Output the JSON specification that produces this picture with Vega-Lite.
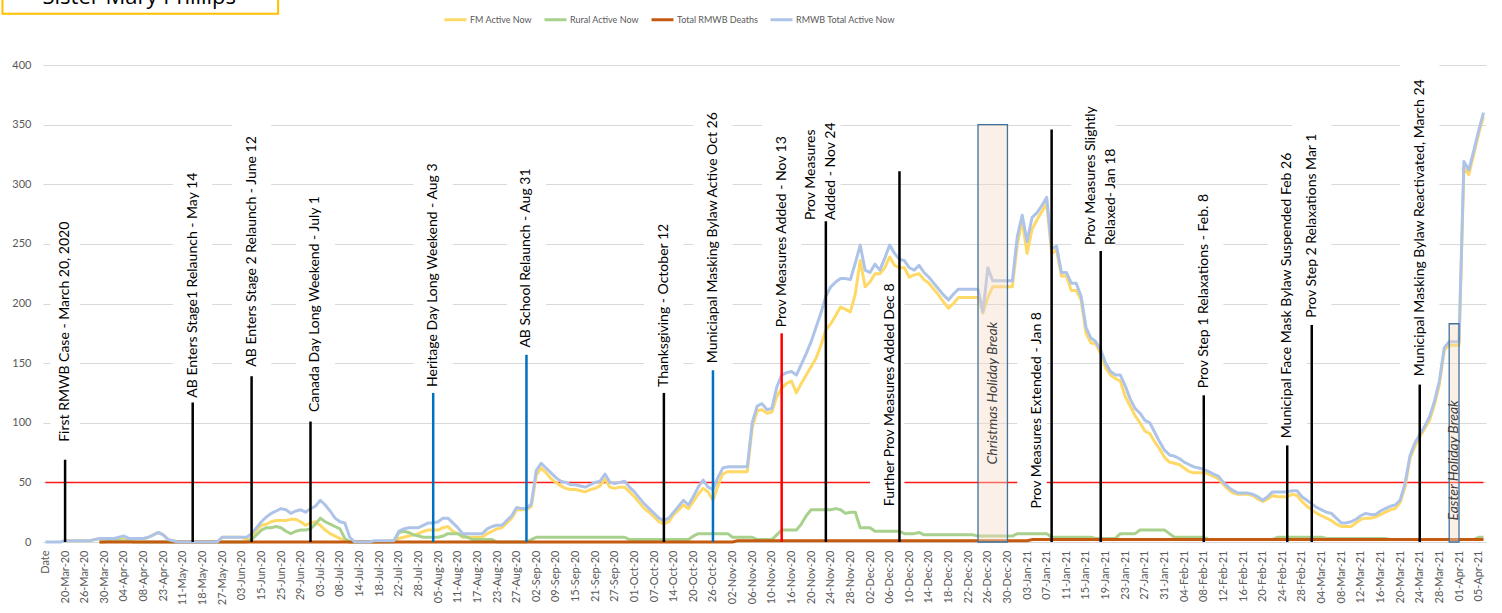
{
"$schema":"https://vega.github.io/schema/vega-lite/v6.json",
"width":1443,"height":477,
"autosize":{"type":"none"},
"padding":{"left":43,"top":65,"right":16,"bottom":71},
"background":"white",
"config":{"view":{"stroke":null},"font":"Lato"},
"datasets":{
"series":[
{"d":"Date","FM Active Now":null,"Rural Active Now":null,"Total RMWB Deaths":null,"RMWB Total Active Now":0},
{"d":"17-Mar-20","FM Active Now":null,"Rural Active Now":null,"Total RMWB Deaths":null,"RMWB Total Active Now":0},
{"d":"18-Mar-20","FM Active Now":null,"Rural Active Now":null,"Total RMWB Deaths":null,"RMWB Total Active Now":0},
{"d":"19-Mar-20","FM Active Now":null,"Rural Active Now":null,"Total RMWB Deaths":null,"RMWB Total Active Now":0},
{"d":"20-Mar-20","FM Active Now":1,"Rural Active Now":null,"Total RMWB Deaths":null,"RMWB Total Active Now":1},
{"d":"23-Mar-20","FM Active Now":1,"Rural Active Now":null,"Total RMWB Deaths":null,"RMWB Total Active Now":1},
{"d":"24-Mar-20","FM Active Now":1,"Rural Active Now":null,"Total RMWB Deaths":null,"RMWB Total Active Now":1},
{"d":"25-Mar-20","FM Active Now":1,"Rural Active Now":null,"Total RMWB Deaths":null,"RMWB Total Active Now":1},
{"d":"26-Mar-20","FM Active Now":1,"Rural Active Now":null,"Total RMWB Deaths":null,"RMWB Total Active Now":1},
{"d":"27-Mar-20","FM Active Now":1,"Rural Active Now":null,"Total RMWB Deaths":null,"RMWB Total Active Now":1},
{"d":"28-Mar-20","FM Active Now":2,"Rural Active Now":null,"Total RMWB Deaths":null,"RMWB Total Active Now":2},
{"d":"29-Mar-20","FM Active Now":3,"Rural Active Now":0,"Total RMWB Deaths":0,"RMWB Total Active Now":3},
{"d":"30-Mar-20","FM Active Now":3,"Rural Active Now":0,"Total RMWB Deaths":0,"RMWB Total Active Now":3},
{"d":"31-Mar-20","FM Active Now":2,"Rural Active Now":1,"Total RMWB Deaths":0,"RMWB Total Active Now":3},
{"d":"01-Apr-20","FM Active Now":2,"Rural Active Now":1,"Total RMWB Deaths":0,"RMWB Total Active Now":3},
{"d":"02-Apr-20","FM Active Now":3,"Rural Active Now":1,"Total RMWB Deaths":0,"RMWB Total Active Now":4},
{"d":"04-Apr-20","FM Active Now":4,"Rural Active Now":1,"Total RMWB Deaths":0,"RMWB Total Active Now":5},
{"d":"05-Apr-20","FM Active Now":2,"Rural Active Now":1,"Total RMWB Deaths":0,"RMWB Total Active Now":3},
{"d":"06-Apr-20","FM Active Now":3,"Rural Active Now":0,"Total RMWB Deaths":0,"RMWB Total Active Now":3},
{"d":"07-Apr-20","FM Active Now":3,"Rural Active Now":0,"Total RMWB Deaths":0,"RMWB Total Active Now":3},
{"d":"08-Apr-20","FM Active Now":3,"Rural Active Now":0,"Total RMWB Deaths":0,"RMWB Total Active Now":3},
{"d":"14-Apr-20","FM Active Now":4,"Rural Active Now":0,"Total RMWB Deaths":0,"RMWB Total Active Now":4},
{"d":"17-Apr-20","FM Active Now":6,"Rural Active Now":0,"Total RMWB Deaths":0,"RMWB Total Active Now":6},
{"d":"20-Apr-20","FM Active Now":8,"Rural Active Now":0,"Total RMWB Deaths":0,"RMWB Total Active Now":8},
{"d":"23-Apr-20","FM Active Now":6,"Rural Active Now":0,"Total RMWB Deaths":0,"RMWB Total Active Now":6},
{"d":"28-Apr-20","FM Active Now":2,"Rural Active Now":0,"Total RMWB Deaths":0,"RMWB Total Active Now":2},
{"d":"01-May-20","FM Active Now":1,"Rural Active Now":0,"Total RMWB Deaths":0,"RMWB Total Active Now":1},
{"d":"06-May-20","FM Active Now":0,"Rural Active Now":0,"Total RMWB Deaths":0,"RMWB Total Active Now":0},
{"d":"11-May-20","FM Active Now":0,"Rural Active Now":0,"Total RMWB Deaths":0,"RMWB Total Active Now":0},
{"d":"13-May-20","FM Active Now":0,"Rural Active Now":0,"Total RMWB Deaths":0,"RMWB Total Active Now":0},
{"d":"14-May-20","FM Active Now":0,"Rural Active Now":0,"Total RMWB Deaths":0,"RMWB Total Active Now":0},
{"d":"15-May-20","FM Active Now":0,"Rural Active Now":0,"Total RMWB Deaths":0,"RMWB Total Active Now":0},
{"d":"18-May-20","FM Active Now":0,"Rural Active Now":0,"Total RMWB Deaths":0,"RMWB Total Active Now":0},
{"d":"20-May-20","FM Active Now":0,"Rural Active Now":0,"Total RMWB Deaths":0,"RMWB Total Active Now":0},
{"d":"22-May-20","FM Active Now":0,"Rural Active Now":0,"Total RMWB Deaths":0,"RMWB Total Active Now":0},
{"d":"25-May-20","FM Active Now":0,"Rural Active Now":0,"Total RMWB Deaths":0,"RMWB Total Active Now":0},
{"d":"27-May-20","FM Active Now":4,"Rural Active Now":0,"Total RMWB Deaths":0,"RMWB Total Active Now":4},
{"d":"29-May-20","FM Active Now":4,"Rural Active Now":0,"Total RMWB Deaths":0,"RMWB Total Active Now":4},
{"d":"01-Jun-20","FM Active Now":4,"Rural Active Now":0,"Total RMWB Deaths":0,"RMWB Total Active Now":4},
{"d":"02-Jun-20","FM Active Now":4,"Rural Active Now":0,"Total RMWB Deaths":0,"RMWB Total Active Now":4},
{"d":"03-Jun-20","FM Active Now":4,"Rural Active Now":0,"Total RMWB Deaths":0,"RMWB Total Active Now":4},
{"d":"05-Jun-20","FM Active Now":2,"Rural Active Now":0,"Total RMWB Deaths":0,"RMWB Total Active Now":4},
{"d":"09-Jun-20","FM Active Now":3,"Rural Active Now":2,"Total RMWB Deaths":0,"RMWB Total Active Now":7},
{"d":"12-Jun-20","FM Active Now":10,"Rural Active Now":6,"Total RMWB Deaths":0,"RMWB Total Active Now":12},
{"d":"15-Jun-20","FM Active Now":14,"Rural Active Now":10,"Total RMWB Deaths":0,"RMWB Total Active Now":17},
{"d":"17-Jun-20","FM Active Now":15,"Rural Active Now":12,"Total RMWB Deaths":0,"RMWB Total Active Now":21},
{"d":"19-Jun-20","FM Active Now":17,"Rural Active Now":12,"Total RMWB Deaths":0,"RMWB Total Active Now":24},
{"d":"22-Jun-20","FM Active Now":18,"Rural Active Now":13,"Total RMWB Deaths":0,"RMWB Total Active Now":26},
{"d":"25-Jun-20","FM Active Now":18,"Rural Active Now":12,"Total RMWB Deaths":0,"RMWB Total Active Now":28},
{"d":"26-Jun-20","FM Active Now":18,"Rural Active Now":9,"Total RMWB Deaths":0,"RMWB Total Active Now":27},
{"d":"27-Jun-20","FM Active Now":19,"Rural Active Now":7,"Total RMWB Deaths":0,"RMWB Total Active Now":24},
{"d":"28-Jun-20","FM Active Now":19,"Rural Active Now":9,"Total RMWB Deaths":0,"RMWB Total Active Now":26},
{"d":"29-Jun-20","FM Active Now":17,"Rural Active Now":10,"Total RMWB Deaths":0,"RMWB Total Active Now":27},
{"d":"30-Jun-20","FM Active Now":14,"Rural Active Now":10,"Total RMWB Deaths":0,"RMWB Total Active Now":25},
{"d":"01-Jul-20","FM Active Now":16,"Rural Active Now":11,"Total RMWB Deaths":0,"RMWB Total Active Now":28},
{"d":"02-Jul-20","FM Active Now":17,"Rural Active Now":15,"Total RMWB Deaths":0,"RMWB Total Active Now":30},
{"d":"03-Jul-20","FM Active Now":14,"Rural Active Now":20,"Total RMWB Deaths":0,"RMWB Total Active Now":35},
{"d":"05-Jul-20","FM Active Now":10,"Rural Active Now":17,"Total RMWB Deaths":0,"RMWB Total Active Now":31},
{"d":"06-Jul-20","FM Active Now":7,"Rural Active Now":15,"Total RMWB Deaths":0,"RMWB Total Active Now":26},
{"d":"07-Jul-20","FM Active Now":5,"Rural Active Now":13,"Total RMWB Deaths":0,"RMWB Total Active Now":20},
{"d":"08-Jul-20","FM Active Now":3,"Rural Active Now":11,"Total RMWB Deaths":0,"RMWB Total Active Now":17},
{"d":"09-Jul-20","FM Active Now":1,"Rural Active Now":3,"Total RMWB Deaths":0,"RMWB Total Active Now":16},
{"d":"10-Jul-20","FM Active Now":0,"Rural Active Now":0,"Total RMWB Deaths":0,"RMWB Total Active Now":4},
{"d":"13-Jul-20","FM Active Now":0,"Rural Active Now":0,"Total RMWB Deaths":0,"RMWB Total Active Now":0},
{"d":"14-Jul-20","FM Active Now":0,"Rural Active Now":0,"Total RMWB Deaths":0,"RMWB Total Active Now":0},
{"d":"15-Jul-20","FM Active Now":0,"Rural Active Now":0,"Total RMWB Deaths":0,"RMWB Total Active Now":0},
{"d":"16-Jul-20","FM Active Now":0,"Rural Active Now":0,"Total RMWB Deaths":0,"RMWB Total Active Now":0},
{"d":"17-Jul-20","FM Active Now":0,"Rural Active Now":0,"Total RMWB Deaths":0,"RMWB Total Active Now":1},
{"d":"18-Jul-20","FM Active Now":0,"Rural Active Now":0,"Total RMWB Deaths":0,"RMWB Total Active Now":1},
{"d":"19-Jul-20","FM Active Now":0,"Rural Active Now":0,"Total RMWB Deaths":0,"RMWB Total Active Now":1},
{"d":"20-Jul-20","FM Active Now":1,"Rural Active Now":0,"Total RMWB Deaths":0,"RMWB Total Active Now":1},
{"d":"21-Jul-20","FM Active Now":1,"Rural Active Now":0,"Total RMWB Deaths":0,"RMWB Total Active Now":1},
{"d":"22-Jul-20","FM Active Now":3,"Rural Active Now":8,"Total RMWB Deaths":0,"RMWB Total Active Now":9},
{"d":"23-Jul-20","FM Active Now":4,"Rural Active Now":9,"Total RMWB Deaths":0,"RMWB Total Active Now":11},
{"d":"24-Jul-20","FM Active Now":5,"Rural Active Now":8,"Total RMWB Deaths":0,"RMWB Total Active Now":12},
{"d":"27-Jul-20","FM Active Now":6,"Rural Active Now":6,"Total RMWB Deaths":0,"RMWB Total Active Now":12},
{"d":"28-Jul-20","FM Active Now":7,"Rural Active Now":5,"Total RMWB Deaths":0,"RMWB Total Active Now":12},
{"d":"30-Jul-20","FM Active Now":9,"Rural Active Now":4,"Total RMWB Deaths":0,"RMWB Total Active Now":14},
{"d":"31-Jul-20","FM Active Now":10,"Rural Active Now":4,"Total RMWB Deaths":0,"RMWB Total Active Now":16},
{"d":"03-Aug-20","FM Active Now":10,"Rural Active Now":4,"Total RMWB Deaths":0,"RMWB Total Active Now":16},
{"d":"05-Aug-20","FM Active Now":10,"Rural Active Now":4,"Total RMWB Deaths":0,"RMWB Total Active Now":17},
{"d":"06-Aug-20","FM Active Now":12,"Rural Active Now":5,"Total RMWB Deaths":0,"RMWB Total Active Now":20},
{"d":"07-Aug-20","FM Active Now":13,"Rural Active Now":7,"Total RMWB Deaths":0,"RMWB Total Active Now":20},
{"d":"10-Aug-20","FM Active Now":9,"Rural Active Now":7,"Total RMWB Deaths":0,"RMWB Total Active Now":16},
{"d":"11-Aug-20","FM Active Now":7,"Rural Active Now":7,"Total RMWB Deaths":0,"RMWB Total Active Now":12},
{"d":"12-Aug-20","FM Active Now":4,"Rural Active Now":5,"Total RMWB Deaths":0,"RMWB Total Active Now":7},
{"d":"13-Aug-20","FM Active Now":4,"Rural Active Now":4,"Total RMWB Deaths":0,"RMWB Total Active Now":7},
{"d":"14-Aug-20","FM Active Now":4,"Rural Active Now":2,"Total RMWB Deaths":0,"RMWB Total Active Now":7},
{"d":"17-Aug-20","FM Active Now":4,"Rural Active Now":2,"Total RMWB Deaths":0,"RMWB Total Active Now":7},
{"d":"19-Aug-20","FM Active Now":4,"Rural Active Now":2,"Total RMWB Deaths":0,"RMWB Total Active Now":7},
{"d":"20-Aug-20","FM Active Now":7,"Rural Active Now":2,"Total RMWB Deaths":0,"RMWB Total Active Now":11},
{"d":"21-Aug-20","FM Active Now":9,"Rural Active Now":2,"Total RMWB Deaths":0,"RMWB Total Active Now":13},
{"d":"23-Aug-20","FM Active Now":11,"Rural Active Now":0,"Total RMWB Deaths":0,"RMWB Total Active Now":14},
{"d":"24-Aug-20","FM Active Now":12,"Rural Active Now":0,"Total RMWB Deaths":0,"RMWB Total Active Now":14},
{"d":"25-Aug-20","FM Active Now":16,"Rural Active Now":0,"Total RMWB Deaths":0,"RMWB Total Active Now":18},
{"d":"26-Aug-20","FM Active Now":20,"Rural Active Now":0,"Total RMWB Deaths":0,"RMWB Total Active Now":22},
{"d":"27-Aug-20","FM Active Now":27,"Rural Active Now":0,"Total RMWB Deaths":0,"RMWB Total Active Now":29},
{"d":"28-Aug-20","FM Active Now":27,"Rural Active Now":0,"Total RMWB Deaths":0,"RMWB Total Active Now":28},
{"d":"31-Aug-20","FM Active Now":27,"Rural Active Now":0,"Total RMWB Deaths":0,"RMWB Total Active Now":28},
{"d":"01-Sep-20","FM Active Now":30,"Rural Active Now":2,"Total RMWB Deaths":0,"RMWB Total Active Now":32},
{"d":"02-Sep-20","FM Active Now":56,"Rural Active Now":4,"Total RMWB Deaths":0,"RMWB Total Active Now":60},
{"d":"03-Sep-20","FM Active Now":62,"Rural Active Now":4,"Total RMWB Deaths":0,"RMWB Total Active Now":66},
{"d":"04-Sep-20","FM Active Now":58,"Rural Active Now":4,"Total RMWB Deaths":0,"RMWB Total Active Now":62},
{"d":"08-Sep-20","FM Active Now":53,"Rural Active Now":4,"Total RMWB Deaths":0,"RMWB Total Active Now":58},
{"d":"09-Sep-20","FM Active Now":50,"Rural Active Now":4,"Total RMWB Deaths":0,"RMWB Total Active Now":54},
{"d":"10-Sep-20","FM Active Now":47,"Rural Active Now":4,"Total RMWB Deaths":0,"RMWB Total Active Now":51},
{"d":"11-Sep-20","FM Active Now":45,"Rural Active Now":4,"Total RMWB Deaths":0,"RMWB Total Active Now":50},
{"d":"14-Sep-20","FM Active Now":44,"Rural Active Now":4,"Total RMWB Deaths":0,"RMWB Total Active Now":48},
{"d":"15-Sep-20","FM Active Now":44,"Rural Active Now":4,"Total RMWB Deaths":0,"RMWB Total Active Now":48},
{"d":"16-Sep-20","FM Active Now":43,"Rural Active Now":4,"Total RMWB Deaths":0,"RMWB Total Active Now":47},
{"d":"17-Sep-20","FM Active Now":42,"Rural Active Now":4,"Total RMWB Deaths":0,"RMWB Total Active Now":46},
{"d":"18-Sep-20","FM Active Now":44,"Rural Active Now":4,"Total RMWB Deaths":0,"RMWB Total Active Now":48},
{"d":"21-Sep-20","FM Active Now":45,"Rural Active Now":4,"Total RMWB Deaths":0,"RMWB Total Active Now":50},
{"d":"22-Sep-20","FM Active Now":47,"Rural Active Now":4,"Total RMWB Deaths":0,"RMWB Total Active Now":51},
{"d":"23-Sep-20","FM Active Now":53,"Rural Active Now":4,"Total RMWB Deaths":0,"RMWB Total Active Now":57},
{"d":"24-Sep-20","FM Active Now":46,"Rural Active Now":4,"Total RMWB Deaths":0,"RMWB Total Active Now":50},
{"d":"27-Sep-20","FM Active Now":45,"Rural Active Now":4,"Total RMWB Deaths":0,"RMWB Total Active Now":49},
{"d":"28-Sep-20","FM Active Now":46,"Rural Active Now":4,"Total RMWB Deaths":0,"RMWB Total Active Now":50},
{"d":"29-Sep-20","FM Active Now":46,"Rural Active Now":4,"Total RMWB Deaths":0,"RMWB Total Active Now":51},
{"d":"30-Sep-20","FM Active Now":42,"Rural Active Now":2,"Total RMWB Deaths":0,"RMWB Total Active Now":46},
{"d":"01-Oct-20","FM Active Now":38,"Rural Active Now":2,"Total RMWB Deaths":0,"RMWB Total Active Now":42},
{"d":"02-Oct-20","FM Active Now":33,"Rural Active Now":2,"Total RMWB Deaths":0,"RMWB Total Active Now":37},
{"d":"05-Oct-20","FM Active Now":28,"Rural Active Now":2,"Total RMWB Deaths":0,"RMWB Total Active Now":32},
{"d":"06-Oct-20","FM Active Now":25,"Rural Active Now":2,"Total RMWB Deaths":0,"RMWB Total Active Now":28},
{"d":"07-Oct-20","FM Active Now":21,"Rural Active Now":2,"Total RMWB Deaths":0,"RMWB Total Active Now":24},
{"d":"09-Oct-20","FM Active Now":17,"Rural Active Now":2,"Total RMWB Deaths":0,"RMWB Total Active Now":20},
{"d":"12-Oct-20","FM Active Now":15,"Rural Active Now":2,"Total RMWB Deaths":0,"RMWB Total Active Now":18},
{"d":"13-Oct-20","FM Active Now":17,"Rural Active Now":2,"Total RMWB Deaths":0,"RMWB Total Active Now":20},
{"d":"14-Oct-20","FM Active Now":23,"Rural Active Now":2,"Total RMWB Deaths":0,"RMWB Total Active Now":25},
{"d":"15-Oct-20","FM Active Now":27,"Rural Active Now":2,"Total RMWB Deaths":0,"RMWB Total Active Now":30},
{"d":"16-Oct-20","FM Active Now":31,"Rural Active Now":2,"Total RMWB Deaths":0,"RMWB Total Active Now":35},
{"d":"19-Oct-20","FM Active Now":28,"Rural Active Now":2,"Total RMWB Deaths":0,"RMWB Total Active Now":31},
{"d":"20-Oct-20","FM Active Now":34,"Rural Active Now":5,"Total RMWB Deaths":0,"RMWB Total Active Now":38},
{"d":"21-Oct-20","FM Active Now":40,"Rural Active Now":7,"Total RMWB Deaths":0,"RMWB Total Active Now":46},
{"d":"22-Oct-20","FM Active Now":45,"Rural Active Now":7,"Total RMWB Deaths":0,"RMWB Total Active Now":52},
{"d":"23-Oct-20","FM Active Now":42,"Rural Active Now":7,"Total RMWB Deaths":0,"RMWB Total Active Now":46},
{"d":"26-Oct-20","FM Active Now":35,"Rural Active Now":7,"Total RMWB Deaths":0,"RMWB Total Active Now":44},
{"d":"27-Oct-20","FM Active Now":47,"Rural Active Now":7,"Total RMWB Deaths":0,"RMWB Total Active Now":54},
{"d":"28-Oct-20","FM Active Now":57,"Rural Active Now":7,"Total RMWB Deaths":0,"RMWB Total Active Now":62},
{"d":"30-Oct-20","FM Active Now":59,"Rural Active Now":7,"Total RMWB Deaths":0,"RMWB Total Active Now":63},
{"d":"02-Nov-20","FM Active Now":59,"Rural Active Now":4,"Total RMWB Deaths":0,"RMWB Total Active Now":63},
{"d":"03-Nov-20","FM Active Now":59,"Rural Active Now":4,"Total RMWB Deaths":1,"RMWB Total Active Now":63},
{"d":"04-Nov-20","FM Active Now":59,"Rural Active Now":4,"Total RMWB Deaths":1,"RMWB Total Active Now":63},
{"d":"05-Nov-20","FM Active Now":59,"Rural Active Now":4,"Total RMWB Deaths":1,"RMWB Total Active Now":63},
{"d":"06-Nov-20","FM Active Now":96,"Rural Active Now":4,"Total RMWB Deaths":1,"RMWB Total Active Now":100},
{"d":"07-Nov-20","FM Active Now":110,"Rural Active Now":2,"Total RMWB Deaths":1,"RMWB Total Active Now":114},
{"d":"08-Nov-20","FM Active Now":111,"Rural Active Now":2,"Total RMWB Deaths":1,"RMWB Total Active Now":116},
{"d":"09-Nov-20","FM Active Now":108,"Rural Active Now":2,"Total RMWB Deaths":1,"RMWB Total Active Now":111},
{"d":"10-Nov-20","FM Active Now":109,"Rural Active Now":2,"Total RMWB Deaths":1,"RMWB Total Active Now":112},
{"d":"12-Nov-20","FM Active Now":122,"Rural Active Now":6,"Total RMWB Deaths":1,"RMWB Total Active Now":130},
{"d":"13-Nov-20","FM Active Now":129,"Rural Active Now":10,"Total RMWB Deaths":1,"RMWB Total Active Now":140},
{"d":"15-Nov-20","FM Active Now":133,"Rural Active Now":10,"Total RMWB Deaths":1,"RMWB Total Active Now":142},
{"d":"16-Nov-20","FM Active Now":135,"Rural Active Now":10,"Total RMWB Deaths":1,"RMWB Total Active Now":143},
{"d":"17-Nov-20","FM Active Now":125,"Rural Active Now":10,"Total RMWB Deaths":1,"RMWB Total Active Now":140},
{"d":"18-Nov-20","FM Active Now":133,"Rural Active Now":15,"Total RMWB Deaths":1,"RMWB Total Active Now":149},
{"d":"19-Nov-20","FM Active Now":140,"Rural Active Now":22,"Total RMWB Deaths":1,"RMWB Total Active Now":158},
{"d":"20-Nov-20","FM Active Now":147,"Rural Active Now":27,"Total RMWB Deaths":1,"RMWB Total Active Now":168},
{"d":"21-Nov-20","FM Active Now":154,"Rural Active Now":27,"Total RMWB Deaths":1,"RMWB Total Active Now":180},
{"d":"22-Nov-20","FM Active Now":165,"Rural Active Now":27,"Total RMWB Deaths":1,"RMWB Total Active Now":192},
{"d":"23-Nov-20","FM Active Now":178,"Rural Active Now":27,"Total RMWB Deaths":1,"RMWB Total Active Now":206},
{"d":"24-Nov-20","FM Active Now":183,"Rural Active Now":27,"Total RMWB Deaths":1,"RMWB Total Active Now":214},
{"d":"25-Nov-20","FM Active Now":190,"Rural Active Now":28,"Total RMWB Deaths":1,"RMWB Total Active Now":218},
{"d":"26-Nov-20","FM Active Now":197,"Rural Active Now":27,"Total RMWB Deaths":1,"RMWB Total Active Now":221},
{"d":"27-Nov-20","FM Active Now":195,"Rural Active Now":24,"Total RMWB Deaths":1,"RMWB Total Active Now":221},
{"d":"28-Nov-20","FM Active Now":193,"Rural Active Now":25,"Total RMWB Deaths":1,"RMWB Total Active Now":220},
{"d":"29-Nov-20","FM Active Now":208,"Rural Active Now":25,"Total RMWB Deaths":1,"RMWB Total Active Now":234},
{"d":"30-Nov-20","FM Active Now":236,"Rural Active Now":12,"Total RMWB Deaths":1,"RMWB Total Active Now":249},
{"d":"01-Dec-20","FM Active Now":214,"Rural Active Now":12,"Total RMWB Deaths":1,"RMWB Total Active Now":228},
{"d":"02-Dec-20","FM Active Now":218,"Rural Active Now":12,"Total RMWB Deaths":1,"RMWB Total Active Now":226},
{"d":"03-Dec-20","FM Active Now":225,"Rural Active Now":9,"Total RMWB Deaths":1,"RMWB Total Active Now":233},
{"d":"04-Dec-20","FM Active Now":225,"Rural Active Now":9,"Total RMWB Deaths":1,"RMWB Total Active Now":228},
{"d":"05-Dec-20","FM Active Now":230,"Rural Active Now":9,"Total RMWB Deaths":1,"RMWB Total Active Now":238},
{"d":"06-Dec-20","FM Active Now":239,"Rural Active Now":9,"Total RMWB Deaths":1,"RMWB Total Active Now":249},
{"d":"07-Dec-20","FM Active Now":232,"Rural Active Now":9,"Total RMWB Deaths":1,"RMWB Total Active Now":242},
{"d":"08-Dec-20","FM Active Now":230,"Rural Active Now":9,"Total RMWB Deaths":1,"RMWB Total Active Now":237},
{"d":"09-Dec-20","FM Active Now":230,"Rural Active Now":7,"Total RMWB Deaths":1,"RMWB Total Active Now":236},
{"d":"10-Dec-20","FM Active Now":222,"Rural Active Now":7,"Total RMWB Deaths":1,"RMWB Total Active Now":230},
{"d":"11-Dec-20","FM Active Now":224,"Rural Active Now":7,"Total RMWB Deaths":1,"RMWB Total Active Now":228},
{"d":"12-Dec-20","FM Active Now":225,"Rural Active Now":8,"Total RMWB Deaths":1,"RMWB Total Active Now":232},
{"d":"13-Dec-20","FM Active Now":220,"Rural Active Now":6,"Total RMWB Deaths":1,"RMWB Total Active Now":226},
{"d":"14-Dec-20","FM Active Now":217,"Rural Active Now":6,"Total RMWB Deaths":1,"RMWB Total Active Now":222},
{"d":"15-Dec-20","FM Active Now":212,"Rural Active Now":6,"Total RMWB Deaths":1,"RMWB Total Active Now":217},
{"d":"16-Dec-20","FM Active Now":207,"Rural Active Now":6,"Total RMWB Deaths":1,"RMWB Total Active Now":212},
{"d":"17-Dec-20","FM Active Now":201,"Rural Active Now":6,"Total RMWB Deaths":1,"RMWB Total Active Now":207},
{"d":"18-Dec-20","FM Active Now":196,"Rural Active Now":6,"Total RMWB Deaths":1,"RMWB Total Active Now":203},
{"d":"19-Dec-20","FM Active Now":200,"Rural Active Now":6,"Total RMWB Deaths":1,"RMWB Total Active Now":208},
{"d":"20-Dec-20","FM Active Now":205,"Rural Active Now":6,"Total RMWB Deaths":1,"RMWB Total Active Now":212},
{"d":"21-Dec-20","FM Active Now":205,"Rural Active Now":6,"Total RMWB Deaths":1,"RMWB Total Active Now":212},
{"d":"22-Dec-20","FM Active Now":205,"Rural Active Now":6,"Total RMWB Deaths":1,"RMWB Total Active Now":212},
{"d":"23-Dec-20","FM Active Now":205,"Rural Active Now":6,"Total RMWB Deaths":1,"RMWB Total Active Now":212},
{"d":"24-Dec-20","FM Active Now":205,"Rural Active Now":5,"Total RMWB Deaths":1,"RMWB Total Active Now":212},
{"d":"25-Dec-20","FM Active Now":192,"Rural Active Now":5,"Total RMWB Deaths":1,"RMWB Total Active Now":193},
{"d":"26-Dec-20","FM Active Now":205,"Rural Active Now":5,"Total RMWB Deaths":1,"RMWB Total Active Now":230},
{"d":"27-Dec-20","FM Active Now":214,"Rural Active Now":5,"Total RMWB Deaths":1,"RMWB Total Active Now":219},
{"d":"28-Dec-20","FM Active Now":214,"Rural Active Now":5,"Total RMWB Deaths":1,"RMWB Total Active Now":219},
{"d":"29-Dec-20","FM Active Now":214,"Rural Active Now":5,"Total RMWB Deaths":1,"RMWB Total Active Now":219},
{"d":"30-Dec-20","FM Active Now":214,"Rural Active Now":5,"Total RMWB Deaths":1,"RMWB Total Active Now":219},
{"d":"31-Dec-20","FM Active Now":214,"Rural Active Now":5,"Total RMWB Deaths":1,"RMWB Total Active Now":219},
{"d":"01-Jan-21","FM Active Now":249,"Rural Active Now":7,"Total RMWB Deaths":1,"RMWB Total Active Now":256},
{"d":"02-Jan-21","FM Active Now":270,"Rural Active Now":7,"Total RMWB Deaths":1,"RMWB Total Active Now":274},
{"d":"03-Jan-21","FM Active Now":242,"Rural Active Now":7,"Total RMWB Deaths":1,"RMWB Total Active Now":252},
{"d":"04-Jan-21","FM Active Now":262,"Rural Active Now":7,"Total RMWB Deaths":2,"RMWB Total Active Now":272},
{"d":"05-Jan-21","FM Active Now":270,"Rural Active Now":7,"Total RMWB Deaths":2,"RMWB Total Active Now":276},
{"d":"06-Jan-21","FM Active Now":277,"Rural Active Now":7,"Total RMWB Deaths":2,"RMWB Total Active Now":282},
{"d":"07-Jan-21","FM Active Now":284,"Rural Active Now":7,"Total RMWB Deaths":2,"RMWB Total Active Now":289},
{"d":"08-Jan-21","FM Active Now":242,"Rural Active Now":4,"Total RMWB Deaths":2,"RMWB Total Active Now":246},
{"d":"09-Jan-21","FM Active Now":245,"Rural Active Now":4,"Total RMWB Deaths":2,"RMWB Total Active Now":248},
{"d":"10-Jan-21","FM Active Now":223,"Rural Active Now":4,"Total RMWB Deaths":2,"RMWB Total Active Now":226},
{"d":"11-Jan-21","FM Active Now":223,"Rural Active Now":4,"Total RMWB Deaths":2,"RMWB Total Active Now":226},
{"d":"12-Jan-21","FM Active Now":211,"Rural Active Now":4,"Total RMWB Deaths":2,"RMWB Total Active Now":217},
{"d":"13-Jan-21","FM Active Now":211,"Rural Active Now":4,"Total RMWB Deaths":2,"RMWB Total Active Now":217},
{"d":"14-Jan-21","FM Active Now":203,"Rural Active Now":4,"Total RMWB Deaths":2,"RMWB Total Active Now":206},
{"d":"15-Jan-21","FM Active Now":175,"Rural Active Now":4,"Total RMWB Deaths":2,"RMWB Total Active Now":180},
{"d":"16-Jan-21","FM Active Now":167,"Rural Active Now":4,"Total RMWB Deaths":2,"RMWB Total Active Now":171},
{"d":"17-Jan-21","FM Active Now":166,"Rural Active Now":3,"Total RMWB Deaths":2,"RMWB Total Active Now":168},
{"d":"18-Jan-21","FM Active Now":158,"Rural Active Now":3,"Total RMWB Deaths":2,"RMWB Total Active Now":161},
{"d":"19-Jan-21","FM Active Now":146,"Rural Active Now":3,"Total RMWB Deaths":2,"RMWB Total Active Now":150},
{"d":"20-Jan-21","FM Active Now":140,"Rural Active Now":3,"Total RMWB Deaths":2,"RMWB Total Active Now":143},
{"d":"21-Jan-21","FM Active Now":137,"Rural Active Now":3,"Total RMWB Deaths":2,"RMWB Total Active Now":140},
{"d":"22-Jan-21","FM Active Now":135,"Rural Active Now":7,"Total RMWB Deaths":2,"RMWB Total Active Now":140},
{"d":"23-Jan-21","FM Active Now":122,"Rural Active Now":7,"Total RMWB Deaths":2,"RMWB Total Active Now":131},
{"d":"24-Jan-21","FM Active Now":114,"Rural Active Now":7,"Total RMWB Deaths":2,"RMWB Total Active Now":120},
{"d":"25-Jan-21","FM Active Now":106,"Rural Active Now":7,"Total RMWB Deaths":2,"RMWB Total Active Now":112},
{"d":"26-Jan-21","FM Active Now":100,"Rural Active Now":10,"Total RMWB Deaths":2,"RMWB Total Active Now":108},
{"d":"27-Jan-21","FM Active Now":93,"Rural Active Now":10,"Total RMWB Deaths":2,"RMWB Total Active Now":102},
{"d":"28-Jan-21","FM Active Now":91,"Rural Active Now":10,"Total RMWB Deaths":2,"RMWB Total Active Now":100},
{"d":"29-Jan-21","FM Active Now":84,"Rural Active Now":10,"Total RMWB Deaths":2,"RMWB Total Active Now":92},
{"d":"30-Jan-21","FM Active Now":78,"Rural Active Now":10,"Total RMWB Deaths":2,"RMWB Total Active Now":84},
{"d":"31-Jan-21","FM Active Now":71,"Rural Active Now":10,"Total RMWB Deaths":2,"RMWB Total Active Now":77},
{"d":"01-Feb-21","FM Active Now":67,"Rural Active Now":7,"Total RMWB Deaths":2,"RMWB Total Active Now":73},
{"d":"02-Feb-21","FM Active Now":66,"Rural Active Now":4,"Total RMWB Deaths":2,"RMWB Total Active Now":72},
{"d":"03-Feb-21","FM Active Now":65,"Rural Active Now":4,"Total RMWB Deaths":2,"RMWB Total Active Now":70},
{"d":"04-Feb-21","FM Active Now":62,"Rural Active Now":4,"Total RMWB Deaths":2,"RMWB Total Active Now":67},
{"d":"05-Feb-21","FM Active Now":59,"Rural Active Now":4,"Total RMWB Deaths":2,"RMWB Total Active Now":65},
{"d":"06-Feb-21","FM Active Now":58,"Rural Active Now":4,"Total RMWB Deaths":2,"RMWB Total Active Now":63},
{"d":"07-Feb-21","FM Active Now":58,"Rural Active Now":4,"Total RMWB Deaths":2,"RMWB Total Active Now":62},
{"d":"08-Feb-21","FM Active Now":58,"Rural Active Now":4,"Total RMWB Deaths":2,"RMWB Total Active Now":61},
{"d":"09-Feb-21","FM Active Now":57,"Rural Active Now":2,"Total RMWB Deaths":2,"RMWB Total Active Now":59},
{"d":"10-Feb-21","FM Active Now":55,"Rural Active Now":2,"Total RMWB Deaths":2,"RMWB Total Active Now":57},
{"d":"11-Feb-21","FM Active Now":53,"Rural Active Now":2,"Total RMWB Deaths":2,"RMWB Total Active Now":55},
{"d":"12-Feb-21","FM Active Now":48,"Rural Active Now":2,"Total RMWB Deaths":2,"RMWB Total Active Now":50},
{"d":"13-Feb-21","FM Active Now":44,"Rural Active Now":2,"Total RMWB Deaths":2,"RMWB Total Active Now":46},
{"d":"14-Feb-21","FM Active Now":41,"Rural Active Now":2,"Total RMWB Deaths":2,"RMWB Total Active Now":43},
{"d":"15-Feb-21","FM Active Now":40,"Rural Active Now":2,"Total RMWB Deaths":2,"RMWB Total Active Now":41},
{"d":"16-Feb-21","FM Active Now":40,"Rural Active Now":2,"Total RMWB Deaths":2,"RMWB Total Active Now":41},
{"d":"17-Feb-21","FM Active Now":40,"Rural Active Now":2,"Total RMWB Deaths":2,"RMWB Total Active Now":41},
{"d":"18-Feb-21","FM Active Now":39,"Rural Active Now":2,"Total RMWB Deaths":2,"RMWB Total Active Now":40},
{"d":"19-Feb-21","FM Active Now":36,"Rural Active Now":2,"Total RMWB Deaths":2,"RMWB Total Active Now":38},
{"d":"20-Feb-21","FM Active Now":34,"Rural Active Now":2,"Total RMWB Deaths":2,"RMWB Total Active Now":35},
{"d":"21-Feb-21","FM Active Now":36,"Rural Active Now":2,"Total RMWB Deaths":2,"RMWB Total Active Now":38},
{"d":"22-Feb-21","FM Active Now":39,"Rural Active Now":2,"Total RMWB Deaths":2,"RMWB Total Active Now":42},
{"d":"23-Feb-21","FM Active Now":38,"Rural Active Now":4,"Total RMWB Deaths":2,"RMWB Total Active Now":42},
{"d":"24-Feb-21","FM Active Now":38,"Rural Active Now":4,"Total RMWB Deaths":2,"RMWB Total Active Now":42},
{"d":"25-Feb-21","FM Active Now":38,"Rural Active Now":4,"Total RMWB Deaths":2,"RMWB Total Active Now":42},
{"d":"26-Feb-21","FM Active Now":40,"Rural Active Now":4,"Total RMWB Deaths":2,"RMWB Total Active Now":43},
{"d":"27-Feb-21","FM Active Now":39,"Rural Active Now":4,"Total RMWB Deaths":2,"RMWB Total Active Now":43},
{"d":"28-Feb-21","FM Active Now":34,"Rural Active Now":4,"Total RMWB Deaths":2,"RMWB Total Active Now":38},
{"d":"01-Mar-21","FM Active Now":30,"Rural Active Now":4,"Total RMWB Deaths":2,"RMWB Total Active Now":35},
{"d":"02-Mar-21","FM Active Now":27,"Rural Active Now":4,"Total RMWB Deaths":2,"RMWB Total Active Now":32},
{"d":"03-Mar-21","FM Active Now":24,"Rural Active Now":4,"Total RMWB Deaths":2,"RMWB Total Active Now":29},
{"d":"04-Mar-21","FM Active Now":22,"Rural Active Now":4,"Total RMWB Deaths":2,"RMWB Total Active Now":27},
{"d":"05-Mar-21","FM Active Now":20,"Rural Active Now":3,"Total RMWB Deaths":2,"RMWB Total Active Now":25},
{"d":"06-Mar-21","FM Active Now":18,"Rural Active Now":3,"Total RMWB Deaths":2,"RMWB Total Active Now":24},
{"d":"07-Mar-21","FM Active Now":15,"Rural Active Now":3,"Total RMWB Deaths":2,"RMWB Total Active Now":20},
{"d":"08-Mar-21","FM Active Now":13,"Rural Active Now":3,"Total RMWB Deaths":2,"RMWB Total Active Now":16},
{"d":"09-Mar-21","FM Active Now":13,"Rural Active Now":3,"Total RMWB Deaths":2,"RMWB Total Active Now":16},
{"d":"10-Mar-21","FM Active Now":13,"Rural Active Now":3,"Total RMWB Deaths":2,"RMWB Total Active Now":17},
{"d":"11-Mar-21","FM Active Now":16,"Rural Active Now":3,"Total RMWB Deaths":2,"RMWB Total Active Now":19},
{"d":"12-Mar-21","FM Active Now":19,"Rural Active Now":3,"Total RMWB Deaths":2,"RMWB Total Active Now":22},
{"d":"13-Mar-21","FM Active Now":20,"Rural Active Now":3,"Total RMWB Deaths":2,"RMWB Total Active Now":24},
{"d":"14-Mar-21","FM Active Now":20,"Rural Active Now":3,"Total RMWB Deaths":2,"RMWB Total Active Now":23},
{"d":"15-Mar-21","FM Active Now":21,"Rural Active Now":3,"Total RMWB Deaths":2,"RMWB Total Active Now":23},
{"d":"16-Mar-21","FM Active Now":23,"Rural Active Now":3,"Total RMWB Deaths":2,"RMWB Total Active Now":26},
{"d":"17-Mar-21","FM Active Now":25,"Rural Active Now":3,"Total RMWB Deaths":2,"RMWB Total Active Now":28},
{"d":"18-Mar-21","FM Active Now":27,"Rural Active Now":2,"Total RMWB Deaths":2,"RMWB Total Active Now":30},
{"d":"19-Mar-21","FM Active Now":28,"Rural Active Now":2,"Total RMWB Deaths":2,"RMWB Total Active Now":31},
{"d":"20-Mar-21","FM Active Now":33,"Rural Active Now":2,"Total RMWB Deaths":2,"RMWB Total Active Now":35},
{"d":"21-Mar-21","FM Active Now":46,"Rural Active Now":2,"Total RMWB Deaths":2,"RMWB Total Active Now":49},
{"d":"22-Mar-21","FM Active Now":70,"Rural Active Now":2,"Total RMWB Deaths":2,"RMWB Total Active Now":72},
{"d":"23-Mar-21","FM Active Now":80,"Rural Active Now":2,"Total RMWB Deaths":2,"RMWB Total Active Now":83},
{"d":"24-Mar-21","FM Active Now":88,"Rural Active Now":2,"Total RMWB Deaths":2,"RMWB Total Active Now":90},
{"d":"25-Mar-21","FM Active Now":95,"Rural Active Now":2,"Total RMWB Deaths":2,"RMWB Total Active Now":97},
{"d":"26-Mar-21","FM Active Now":102,"Rural Active Now":2,"Total RMWB Deaths":2,"RMWB Total Active Now":105},
{"d":"27-Mar-21","FM Active Now":115,"Rural Active Now":2,"Total RMWB Deaths":2,"RMWB Total Active Now":118},
{"d":"28-Mar-21","FM Active Now":132,"Rural Active Now":2,"Total RMWB Deaths":2,"RMWB Total Active Now":135},
{"d":"29-Mar-21","FM Active Now":161,"Rural Active Now":2,"Total RMWB Deaths":2,"RMWB Total Active Now":163},
{"d":"30-Mar-21","FM Active Now":165,"Rural Active Now":2,"Total RMWB Deaths":2,"RMWB Total Active Now":168},
{"d":"31-Mar-21","FM Active Now":165,"Rural Active Now":2,"Total RMWB Deaths":2,"RMWB Total Active Now":168},
{"d":"01-Apr-21","FM Active Now":165,"Rural Active Now":2,"Total RMWB Deaths":2,"RMWB Total Active Now":168},
{"d":"02-Apr-21","FM Active Now":314,"Rural Active Now":2,"Total RMWB Deaths":2,"RMWB Total Active Now":319},
{"d":"03-Apr-21","FM Active Now":308,"Rural Active Now":2,"Total RMWB Deaths":2,"RMWB Total Active Now":312},
{"d":"04-Apr-21","FM Active Now":325,"Rural Active Now":2,"Total RMWB Deaths":2,"RMWB Total Active Now":328},
{"d":"05-Apr-21","FM Active Now":342,"Rural Active Now":4,"Total RMWB Deaths":2,"RMWB Total Active Now":345},
{"d":"06-Apr-21","FM Active Now":357,"Rural Active Now":4,"Total RMWB Deaths":2,"RMWB Total Active Now":360}
],
"eventLines":[
{"d":"20-Mar-20","top":69,"group":"A"},
{"d":"14-May-20","top":117,"group":"A"},
{"d":"09-Jun-20","top":139,"group":"A"},
{"d":"01-Jul-20","top":101,"group":"A"},
{"d":"03-Aug-20","top":125,"group":"B"},
{"d":"31-Aug-20","top":157,"group":"B"},
{"d":"12-Oct-20","top":125,"group":"A"},
{"d":"26-Oct-20","top":144,"group":"B"},
{"d":"13-Nov-20","top":175,"group":"C"},
{"d":"23-Nov-20","top":269,"group":"A"},
{"d":"08-Dec-20","top":311,"group":"A"},
{"d":"08-Jan-21","top":346,"group":"A"},
{"d":"18-Jan-21","top":244,"group":"A"},
{"d":"08-Feb-21","top":123,"group":"A"},
{"d":"25-Feb-21","top":81,"group":"A"},
{"d":"02-Mar-21","top":182,"group":"A"},
{"d":"24-Mar-21","top":132,"group":"A"}
],
"eventLabels":[
{"d":"20-Mar-20","y":84,"label":"First RMWB Case - March 20, 2020"},
{"d":"14-May-20","y":121,"label":"AB Enters Stage1 Relaunch - May 14"},
{"d":"09-Jun-20","y":147,"label":"AB Enters Stage 2 Relaunch - June 12"},
{"d":"02-Jul-20","y":109,"label":"Canada Day Long Weekend - July 1"},
{"d":"03-Aug-20","y":130,"label":"Heritage Day Long Weekend - Aug 3"},
{"d":"31-Aug-20","y":163,"label":"AB School Relaunch - Aug 31"},
{"d":"12-Oct-20","y":130,"label":"Thanksgiving - October 12"},
{"d":"26-Oct-20","y":150,"label":"Municiapal Masking Bylaw Active Oct 26"},
{"d":"13-Nov-20","y":180,"label":"Prov Measures Added - Nov 13"},
{"d":"20-Nov-20","y":270,"label":"Prov Measures\nAdded - Nov 24"},
{"d":"06-Dec-20","y":30,"label":"Further Prov Measures Added Dec 8"},
{"d":"05-Jan-21","y":28,"label":"Prov Measures Extended - Jan 8"},
{"d":"16-Jan-21","y":249,"label":"Prov Measures Slightly\nRelaxed- Jan 18"},
{"d":"08-Feb-21","y":129,"label":"Prov Step 1 Relaxations - Feb. 8"},
{"d":"25-Feb-21","y":87,"label":"Municipal Face Mask Bylaw Suspended Feb 26"},
{"d":"02-Mar-21","y":188,"label":"Prov Step 2 Relaxations Mar 1"},
{"d":"24-Mar-21","y":139,"label":"Municipal Masking Bylaw Reactivated, March 24"}
],
"labelBoxes":[
{"d":"17-Mar-20","d2":"25-Mar-20","y1":79,"y2":272},
{"d":"01-May-20","d2":"22-May-20","y1":116,"y2":316},
{"d":"01-Jun-20","d2":"19-Jun-20","y1":142,"y2":355},
{"d":"28-Jun-20","d2":"07-Jul-20","y1":104,"y2":296},
{"d":"27-Jul-20","d2":"10-Aug-20","y1":125,"y2":325},
{"d":"25-Aug-20","d2":"04-Sep-20","y1":158,"y2":320},
{"d":"05-Oct-20","d2":"16-Oct-20","y1":125,"y2":275},
{"d":"20-Oct-20","d2":"02-Nov-20","y1":145,"y2":368},
{"d":"08-Nov-20","d2":"18-Nov-20","y1":175,"y2":350},
{"d":"17-Nov-20","d2":"26-Nov-20","y1":265,"y2":358},
{"d":"02-Dec-20","d2":"09-Dec-20","y1":25,"y2":216},
{"d":"01-Jan-21","d2":"07-Jan-21","y1":24,"y2":198},
{"d":"12-Jan-21","d2":"21-Jan-21","y1":244,"y2":375},
{"d":"04-Feb-21","d2":"12-Feb-21","y1":124,"y2":298},
{"d":"21-Feb-21","d2":"01-Mar-21","y1":82,"y2":335},
{"d":"26-Feb-21","d2":"06-Mar-21","y1":183,"y2":350},
{"d":"20-Mar-21","d2":"28-Mar-21","y1":134,"y2":402}
],
"holidays":[
{"d":"24-Dec-20","d2":"30-Dec-20","top":350},
{"d":"30-Mar-21","d2":"01-Apr-21","top":183}
],
"holidayLabels":[
{"d":"27-Dec-20","y":65,"label":"Christmas Holiday Break"},
{"d":"31-Mar-21","y":18,"label":"Easter Holiday Break"}
],
"threshold":[
{"d":"Date","d2":"06-Apr-21","value":50}
],
"note":[
{"d":"Date","y":451,"label":"• Sister Mary Phillips"}
],
"noteBox":[
{"d":"Date","d2":"22-Jun-20","y1":443,"y2":480}
]
},
"encoding":{
"x":{"field":"d","type":"ordinal","title":null,
"scale":{"type":"point","padding":0.5,"domain":["Date","17-Mar-20","18-Mar-20","19-Mar-20","20-Mar-20","23-Mar-20","24-Mar-20","25-Mar-20","26-Mar-20","27-Mar-20","28-Mar-20","29-Mar-20","30-Mar-20","31-Mar-20","01-Apr-20","02-Apr-20","04-Apr-20","05-Apr-20","06-Apr-20","07-Apr-20","08-Apr-20","14-Apr-20","17-Apr-20","20-Apr-20","23-Apr-20","28-Apr-20","01-May-20","06-May-20","11-May-20","13-May-20","14-May-20","15-May-20","18-May-20","20-May-20","22-May-20","25-May-20","27-May-20","29-May-20","01-Jun-20","02-Jun-20","03-Jun-20","05-Jun-20","09-Jun-20","12-Jun-20","15-Jun-20","17-Jun-20","19-Jun-20","22-Jun-20","25-Jun-20","26-Jun-20","27-Jun-20","28-Jun-20","29-Jun-20","30-Jun-20","01-Jul-20","02-Jul-20","03-Jul-20","05-Jul-20","06-Jul-20","07-Jul-20","08-Jul-20","09-Jul-20","10-Jul-20","13-Jul-20","14-Jul-20","15-Jul-20","16-Jul-20","17-Jul-20","18-Jul-20","19-Jul-20","20-Jul-20","21-Jul-20","22-Jul-20","23-Jul-20","24-Jul-20","27-Jul-20","28-Jul-20","30-Jul-20","31-Jul-20","03-Aug-20","05-Aug-20","06-Aug-20","07-Aug-20","10-Aug-20","11-Aug-20","12-Aug-20","13-Aug-20","14-Aug-20","17-Aug-20","19-Aug-20","20-Aug-20","21-Aug-20","23-Aug-20","24-Aug-20","25-Aug-20","26-Aug-20","27-Aug-20","28-Aug-20","31-Aug-20","01-Sep-20","02-Sep-20","03-Sep-20","04-Sep-20","08-Sep-20","09-Sep-20","10-Sep-20","11-Sep-20","14-Sep-20","15-Sep-20","16-Sep-20","17-Sep-20","18-Sep-20","21-Sep-20","22-Sep-20","23-Sep-20","24-Sep-20","27-Sep-20","28-Sep-20","29-Sep-20","30-Sep-20","01-Oct-20","02-Oct-20","05-Oct-20","06-Oct-20","07-Oct-20","09-Oct-20","12-Oct-20","13-Oct-20","14-Oct-20","15-Oct-20","16-Oct-20","19-Oct-20","20-Oct-20","21-Oct-20","22-Oct-20","23-Oct-20","26-Oct-20","27-Oct-20","28-Oct-20","30-Oct-20","02-Nov-20","03-Nov-20","04-Nov-20","05-Nov-20","06-Nov-20","07-Nov-20","08-Nov-20","09-Nov-20","10-Nov-20","12-Nov-20","13-Nov-20","15-Nov-20","16-Nov-20","17-Nov-20","18-Nov-20","19-Nov-20","20-Nov-20","21-Nov-20","22-Nov-20","23-Nov-20","24-Nov-20","25-Nov-20","26-Nov-20","27-Nov-20","28-Nov-20","29-Nov-20","30-Nov-20","01-Dec-20","02-Dec-20","03-Dec-20","04-Dec-20","05-Dec-20","06-Dec-20","07-Dec-20","08-Dec-20","09-Dec-20","10-Dec-20","11-Dec-20","12-Dec-20","13-Dec-20","14-Dec-20","15-Dec-20","16-Dec-20","17-Dec-20","18-Dec-20","19-Dec-20","20-Dec-20","21-Dec-20","22-Dec-20","23-Dec-20","24-Dec-20","25-Dec-20","26-Dec-20","27-Dec-20","28-Dec-20","29-Dec-20","30-Dec-20","31-Dec-20","01-Jan-21","02-Jan-21","03-Jan-21","04-Jan-21","05-Jan-21","06-Jan-21","07-Jan-21","08-Jan-21","09-Jan-21","10-Jan-21","11-Jan-21","12-Jan-21","13-Jan-21","14-Jan-21","15-Jan-21","16-Jan-21","17-Jan-21","18-Jan-21","19-Jan-21","20-Jan-21","21-Jan-21","22-Jan-21","23-Jan-21","24-Jan-21","25-Jan-21","26-Jan-21","27-Jan-21","28-Jan-21","29-Jan-21","30-Jan-21","31-Jan-21","01-Feb-21","02-Feb-21","03-Feb-21","04-Feb-21","05-Feb-21","06-Feb-21","07-Feb-21","08-Feb-21","09-Feb-21","10-Feb-21","11-Feb-21","12-Feb-21","13-Feb-21","14-Feb-21","15-Feb-21","16-Feb-21","17-Feb-21","18-Feb-21","19-Feb-21","20-Feb-21","21-Feb-21","22-Feb-21","23-Feb-21","24-Feb-21","25-Feb-21","26-Feb-21","27-Feb-21","28-Feb-21","01-Mar-21","02-Mar-21","03-Mar-21","04-Mar-21","05-Mar-21","06-Mar-21","07-Mar-21","08-Mar-21","09-Mar-21","10-Mar-21","11-Mar-21","12-Mar-21","13-Mar-21","14-Mar-21","15-Mar-21","16-Mar-21","17-Mar-21","18-Mar-21","19-Mar-21","20-Mar-21","21-Mar-21","22-Mar-21","23-Mar-21","24-Mar-21","25-Mar-21","26-Mar-21","27-Mar-21","28-Mar-21","29-Mar-21","30-Mar-21","31-Mar-21","01-Apr-21","02-Apr-21","03-Apr-21","04-Apr-21","05-Apr-21","06-Apr-21"]},
"axis":{"values":["Date","20-Mar-20","26-Mar-20","30-Mar-20","04-Apr-20","08-Apr-20","23-Apr-20","11-May-20","18-May-20","27-May-20","03-Jun-20","15-Jun-20","25-Jun-20","29-Jun-20","03-Jul-20","08-Jul-20","14-Jul-20","18-Jul-20","22-Jul-20","28-Jul-20","05-Aug-20","11-Aug-20","17-Aug-20","23-Aug-20","27-Aug-20","02-Sep-20","09-Sep-20","15-Sep-20","21-Sep-20","27-Sep-20","01-Oct-20","07-Oct-20","14-Oct-20","20-Oct-20","26-Oct-20","02-Nov-20","06-Nov-20","10-Nov-20","16-Nov-20","20-Nov-20","24-Nov-20","28-Nov-20","02-Dec-20","06-Dec-20","10-Dec-20","14-Dec-20","18-Dec-20","22-Dec-20","26-Dec-20","30-Dec-20","03-Jan-21","07-Jan-21","11-Jan-21","15-Jan-21","19-Jan-21","23-Jan-21","27-Jan-21","31-Jan-21","04-Feb-21","08-Feb-21","12-Feb-21","16-Feb-21","20-Feb-21","24-Feb-21","28-Feb-21","04-Mar-21","08-Mar-21","12-Mar-21","16-Mar-21","20-Mar-21","24-Mar-21","28-Mar-21","01-Apr-21","05-Apr-21"],
"labelAngle":270,"labelFont":"Lato","labelFontSize":11,"labelColor":"#595959","labelPadding":8,"ticks":false,"domainColor":"#D9D9D9","grid":false,"labelOverlap":false}}
},
"layer":[
{"data":{"name":"threshold"},"mark":{"type":"rule","color":"#FF1A1A","strokeWidth":1.5},
 "encoding":{"x2":{"field":"d2"},"y":{"field":"value","type":"quantitative","title":null,
 "scale":{"domain":[0,400]},
 "axis":{"values":[0,50,100,150,200,250,300,350,400],"grid":true,"gridColor":"#D9D9D9","domain":false,"ticks":false,"labelPadding":12,"labelFont":"Lato","labelFontSize":11,"labelColor":"#595959","title":null}}}},
{"data":{"name":"labelBoxes"},"mark":{"type":"rect","fill":"#FFFFFF"},
 "encoding":{"x2":{"field":"d2"},"y":{"field":"y1","type":"quantitative","title":null},"y2":{"field":"y2"}}},
{"data":{"name":"series"},
 "transform":[{"fold":["FM Active Now","Rural Active Now","Total RMWB Deaths","RMWB Total Active Now"],"as":["series","value"]}],
 "mark":{"type":"line","strokeWidth":3,"strokeJoin":"round"},
 "encoding":{
  "y":{"field":"value","type":"quantitative","title":null},
  "color":{"field":"series","type":"nominal","sort":null,
   "scale":{"domain":["FM Active Now","Rural Active Now","Total RMWB Deaths","RMWB Total Active Now"],"range":["#FFD966","#A9D18E","#C55A11","#AEC3E8"]},
   "legend":{"orient":"none","legendX":400,"legendY":-58,"direction":"horizontal","title":null,"symbolType":"stroke","symbolSize":484,"symbolStrokeWidth":3,"labelFont":"Lato","labelFontSize":9,"labelColor":"#595959","columnPadding":6,"labelOffset":2}},
  "order":{"value":null}}},
{"data":{"name":"eventLines"},"mark":{"type":"rule","strokeWidth":2.5},
 "encoding":{"y":{"field":"top","type":"quantitative","title":null},"y2":{"datum":0},
  "color":{"field":"group","type":"nominal","scale":{"domain":["A","B","C"],"range":["#000000","#0070C0","#FF0000"]},"legend":null}}},
{"data":{"name":"eventLabels"},"mark":{"type":"text","angle":270,"align":"left","baseline":"middle","font":"Lato","fontSize":14,"color":"#000000","lineBreak":"\n","lineHeight":20},
 "encoding":{"y":{"field":"y","type":"quantitative","title":null},"text":{"field":"label"}}},
{"data":{"name":"holidays"},"mark":{"type":"rect","fill":"#F4D9C6","fillOpacity":0.4,"stroke":"#41719C","strokeWidth":1.3},
 "encoding":{"x2":{"field":"d2"},"y":{"field":"top","type":"quantitative","title":null},"y2":{"datum":0}}},
{"data":{"name":"holidayLabels"},"mark":{"type":"text","angle":270,"align":"left","baseline":"middle","font":"Lato","fontSize":14,"fontStyle":"italic","color":"#404040"},
 "encoding":{"y":{"field":"y","type":"quantitative","title":null},"text":{"field":"label"}}},
{"data":{"name":"noteBox"},"mark":{"type":"rect","fill":"transparent","stroke":"#FFC000","strokeWidth":2,"xOffset":-43,"x2Offset":2},
 "encoding":{"x2":{"field":"d2"},"y":{"field":"y1","type":"quantitative","title":null},"y2":{"field":"y2"}}},
{"data":{"name":"note"},"mark":{"type":"text","align":"left","baseline":"alphabetic","dx":-17,"font":"Open Sans","fontSize":22,"color":"#000000"},
 "encoding":{"y":{"field":"y","type":"quantitative","title":null},"text":{"field":"label"}}}
],
"resolve":{"scale":{"color":"independent"}}
}
